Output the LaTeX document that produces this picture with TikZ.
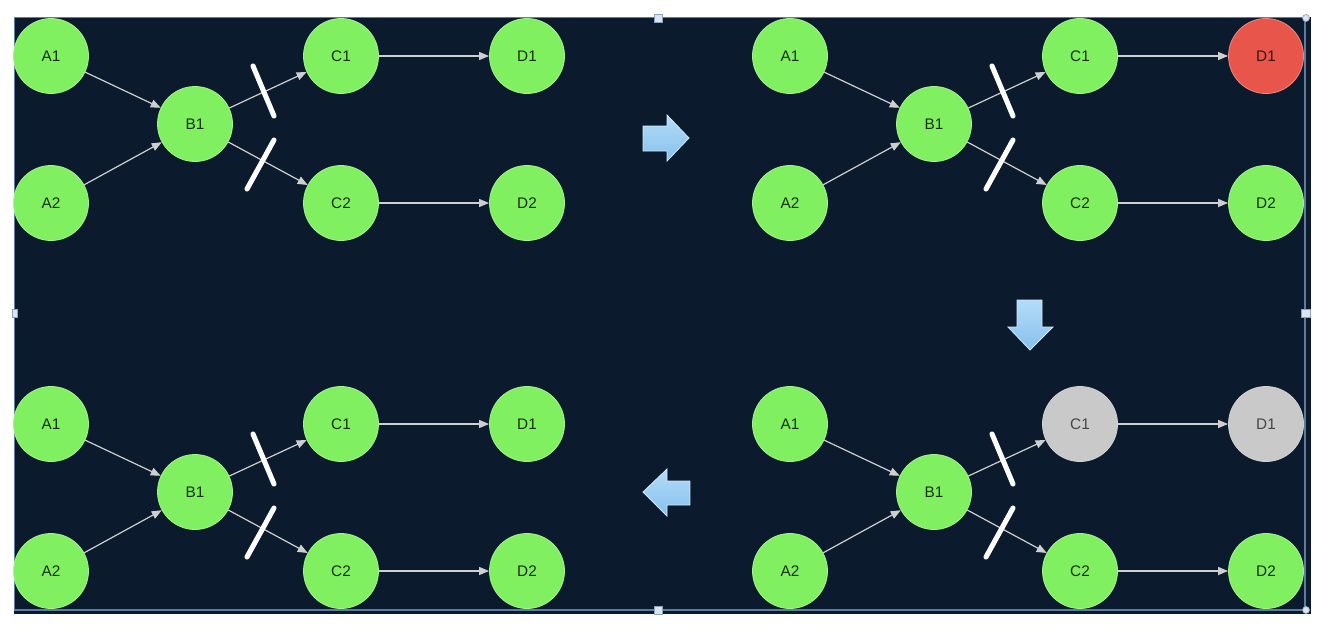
\documentclass[tikz,border=0pt]{standalone}
\usepackage{fontspec}
\setmainfont{Liberation Sans}
\usetikzlibrary{arrows.meta}
\definecolor{bg}{HTML}{0B1B2D}
\definecolor{ngreen}{HTML}{80F060}
\definecolor{nred}{HTML}{E8564B}
\definecolor{ngray}{HTML}{C9C9C9}
\definecolor{edgecol}{HTML}{CFCFCF}
\definecolor{frameblue}{HTML}{5E7C9E}
\definecolor{handle}{HTML}{DCE4F4}
\definecolor{arrtop}{HTML}{B4DCF8}
\definecolor{arrbot}{HTML}{86C0EC}
\tikzset{
  gnode/.style={circle, minimum size=75*0.75pt, inner sep=0pt, fill=ngreen, draw=ngreen!70!white, line width=0.6pt, text=black!80!ngreen, font=\fontsize{11.5}{13}\selectfont},
  rnode/.style={gnode, fill=nred, draw=nred!70!white, text=black!75!nred},
  ynode/.style={gnode, fill=ngray, draw=ngray!80!white, text=black!65!ngray},
  link/.style={draw=edgecol, line width=0.9pt, -{Triangle[length=7.5pt,width=6pt]}},
  blocker/.style={draw=white, line width=3.8pt, line cap=round},
  bigarrow/.style={top color=arrtop, bottom color=arrbot, draw=arrtop!60!white, line width=0.6pt, line join=miter},
  handlebox/.style={fill=handle, draw=frameblue!70!white, line width=0.5pt}
}
\newcommand{\drawpanel}[5]{%
\begin{scope}[shift={(#1,#2)}]
\node[gnode] (#3A1) at (51,56) {A1};
\node[gnode] (#3A2) at (51,203) {A2};
\node[gnode] (#3B1) at (195,124) {B1};
\node[#4] (#3C1) at (341,56) {C1};
\node[gnode] (#3C2) at (341,203) {C2};
\node[#5] (#3D1) at (527,56) {D1};
\node[gnode] (#3D2) at (527,203) {D2};
\draw[link] (#3A1) -- (#3B1);
\draw[link] (#3A2) -- (#3B1);
\draw[link] (#3B1) -- (#3C1);
\draw[link] (#3B1) -- (#3C2);
\draw[link] (#3C1) -- (#3D1);
\draw[link] (#3C2) -- (#3D2);
\coordinate (#3u1) at (253,66);
\coordinate (#3u2) at (274,116);
\coordinate (#3l1) at (274,140);
\coordinate (#3l2) at (247,189);
\draw[blocker] (#3u1) -- (#3u2);
\draw[blocker] (#3l1) -- (#3l2);
\end{scope}}
\begin{document}
\begin{tikzpicture}[x=0.75pt,y=-0.75pt]
\useasboundingbox (0,0) rectangle (1338,632);
\fill[white] (0,0) rectangle (1338,632);
\fill[bg] (14,17) rectangle (1311,614);
% selection frame
\draw[frameblue, line width=1.2pt] (14.5,17.5) -- (1305,17.5) -- (1305,610) -- (14.5,610) -- cycle;
\drawpanel{0}{0}{a}{gnode}{gnode}
\drawpanel{739}{0}{b}{gnode}{rnode}
\drawpanel{0}{368}{c}{gnode}{gnode}
\drawpanel{739}{368}{d}{ynode}{ynode}
% big arrows
\shade[bigarrow] (643,126) -- (667,126) -- (667,115) -- (689,138) -- (667,161) -- (667,151) -- (643,151) -- cycle;
\shade[bigarrow] (1017,300) -- (1042,300) -- (1042,327) -- (1053,327) -- (1030,350) -- (1008,327) -- (1017,327) -- cycle;
\shade[bigarrow] (690,481) -- (667,481) -- (667,469) -- (643,492) -- (667,516) -- (667,505) -- (690,505) -- cycle;
% handles
\draw[handlebox] (654,14) rectangle (662,22);
\draw[handlebox] (654,606) rectangle (662,614);
\draw[handlebox] (12,309) rectangle (17,317);
\draw[handlebox] (1301,309) rectangle (1310,317);
\draw[handlebox] (1306,18) circle (3.5);
\draw[handlebox] (1306,610) circle (3.5);
\end{tikzpicture}
\end{document}
